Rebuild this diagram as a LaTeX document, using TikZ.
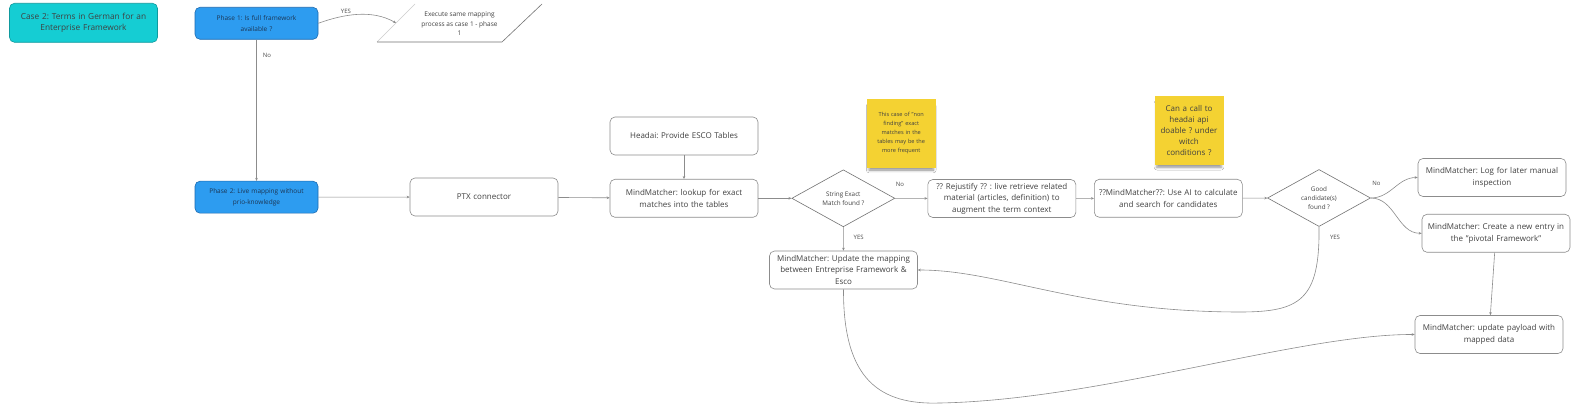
\documentclass[tikz,border=0pt]{standalone}
\usepackage{fontspec}
\setmainfont{Open Sans}
\frenchspacing
\usetikzlibrary{shapes.geometric,arrows.meta,shadows.blur}
\definecolor{tealfill}{HTML}{15CDD3}
\definecolor{tealline}{HTML}{0F9A9E}
\definecolor{bluefill}{HTML}{2D9CF0}
\definecolor{blueline}{HTML}{1E6BB0}
\definecolor{bluetext}{HTML}{1C3553}
\definecolor{notefill}{HTML}{F4D232}
\definecolor{inktext}{HTML}{404040}

\tikzset{
  box/.style={draw=black!45, line width=0.6pt, rounded corners=5pt, fill=white,
    minimum width=148pt, minimum height=38pt, text width=146pt, align=center,
    inner sep=1pt, text=inktext, font=\fontsize{8}{11.5}\selectfont},
  phasebox/.style={box, fill=bluefill, draw=blueline, minimum width=123pt,
    minimum height=32pt, text width=121pt, text=bluetext,
    font=\fontsize{6.5}{11}\selectfont},
  casebox/.style={box, fill=tealfill, draw=tealline, minimum height=39pt,
    font=\fontsize{8.3}{11.4}\selectfont},
  decision/.style={diamond, draw=black!55, line width=0.6pt, fill=white, aspect=1.8,
    minimum width=103pt, minimum height=57pt, inner sep=0pt, align=center,
    text=inktext, font=\fontsize{6.3}{9}\selectfont},
  note/.style={fill=notefill, minimum width=69pt, minimum height=69pt,
    text width=64pt, inner sep=1pt, align=center, text=inktext,
    blur shadow={shadow xshift=0pt, shadow yshift=-5pt, shadow blur radius=3pt,
      shadow opacity=45, shadow scale=0.93}},
  con/.style={draw=black!45, line width=0.6pt, -{Stealth[length=3pt,width=2.6pt]}},
  lbl/.style={font=\fontsize{6}{7}\selectfont, text=black!70, inner sep=1pt}
}

\begin{document}
\begin{tikzpicture}[x=1pt,y=1pt]

  \fill[white] (0,0) rectangle (1582,-411);
  \useasboundingbox (0,0) rectangle (1582,-411);

  \begin{scope}
    \node[casebox]  (1)  at (83.5,-22.8)   {Case 2: Terms in German for an\\Enterprise Framework};
    \node[phasebox] (2)  at (256.5,-23.3)  {Phase 1: Is full framework\\available ?};
    \node[phasebox] (4)  at (256.5,-197.2) {Phase 2: Live mapping without\\prio-knowledge};
    \node[box]      (5)  at (484,-197)     {PTX connector};
    \node[box]      (6)  at (684,-136)     {Headai: Provide ESCO Tables};
    \node[box]      (7)  at (684,-198.3)   {MindMatcher: lookup for exact\\matches into the tables};
    \node[decision] (8)  at (843.3,-198.3) {String Exact\\Match found ?};
    \node[box]      (10) at (1001.8,-198.5) {?? Rejustify ?? : live retrieve related\\material (articles, definition) to\\augment the term context};
    \node[box]      (11) at (1168.3,-198.3) {??MindMatcher??: Use AI to calculate\\and search for candidates};
    \node[decision] (13) at (1319,-198)    {Good\\candidate(s)\\found ?};
    \node[box]      (14) at (1492,-177.5)  {MindMatcher: Log for later manual\\inspection};
    \node[box]      (15) at (1496,-233.3)  {MindMatcher: Create a new entry in\\the "pivotal Framework"};
    \node[box]      (16) at (843.5,-270)   {MindMatcher: Update the mapping\\between Entreprise Framework \&\\Esco};
    \node[box]      (17) at (1489,-334.5)  {MindMatcher: update payload with\\mapped data};
  \end{scope}

  \begin{scope}
    \node[note, font=\fontsize{5.6}{9.1}\selectfont] (9) at (901.2,-133.3)
      {This case of "non\\finding" exact\\matches in the\\tables may be the\\more frequent};
    \node[note, font=\fontsize{8}{11}\selectfont] (12) at (1189,-130.5)
      {Can a call to\\headai api\\doable ? under\\witch\\conditions ?};
  \end{scope}

  \draw[black!20, line width=0.6pt] (377,-42) -- (415,-4);
  \draw[black!55, line width=0.6pt] (377,-42) -- (502,-42) -- (542,-4);
  \node[align=center, text=inktext, font=\fontsize{6.5}{9.5}\selectfont] (3) at (459.5,-24)
    {Execute same mapping\\process as case 1 - phase\\1};
  \coordinate (3w) at (396,-23);

  \begin{scope}[every node/.style={lbl}]
    \path (2.east) edge[con, out=20, in=150, looseness=0.9] node[pos=0.35, above=1pt] {YES} (3w);
    \path (2)  edge[con] node[pos=0.11, right=5pt] {No} (4);
    \path (4)  edge[con] (5);
    \path (5)  edge[con] (7);
    \path (6)  edge[con] (7);
    \path (7)  edge[con] (8);
    \path (8)  edge[con] node[pos=0.15, above=11pt] {No} (10);
    \path (8)  edge[con] node[pos=0.42, right=9pt] {YES} (16);
    \path (10) edge[con] (11);
    \path (11) edge[con] (13);
    \path (13.east) edge[con, out=0, in=180] node[pos=0.1, above=11pt] {No} (14.west);
    \path (13.east) edge[con, out=0, in=180] (15.west);
    \path (15) edge[con] (17);
    \draw[con] (13.south) node[xshift=16pt, yshift=-10.5pt] {YES}
      .. controls (1320,-300) and (1300,-312) .. (1240,-312)
      .. controls (1080,-312) and (1000,-270) .. (16.east);
    \draw[con] (16.south) .. controls (843,-380) and (880,-405) .. (940,-403)
      .. controls (1100,-400) and (1300,-334) .. (17.west);
  \end{scope}

\end{tikzpicture}
\end{document}
